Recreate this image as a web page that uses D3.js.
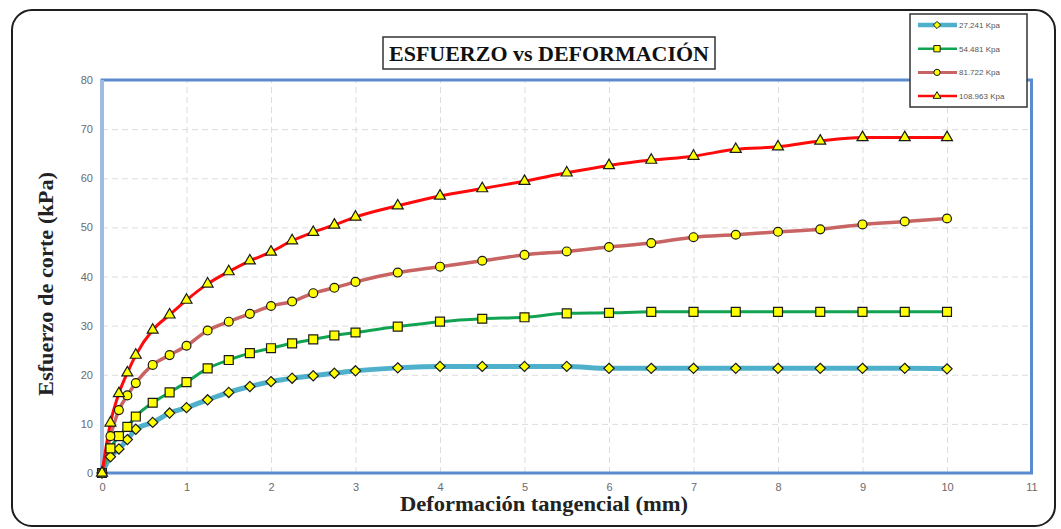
<!DOCTYPE html>
<html>
<head>
<meta charset="utf-8">
<script src="https://cdn.jsdelivr.net/npm/d3@7"></script>
<style>
  html, body { margin: 0; padding: 0; background: #fff; }
  svg { display: block; }
</style>
</head>
<body>
<svg id="chart" width="1061" height="529"></svg>
<script>
// Shear displacement (mm) shared by all four tests
const deformacion = [0, 0.1, 0.2, 0.3, 0.4, 0.6, 0.8, 1.0, 1.25, 1.5, 1.75, 2.0, 2.25, 2.5, 2.75, 3.0,
  3.5, 4, 4.5, 5, 5.5, 6, 6.5, 7, 7.5, 8, 8.5, 9, 9.5, 10];

// Shear stress (kPa) for each normal stress
const esfuerzo27 = [0, 3.3, 4.9, 6.8, 8.9, 10.3, 12.2, 13.3, 14.9, 16.4, 17.6, 18.6, 19.3, 19.8, 20.3, 20.8,
  21.4, 21.7, 21.7, 21.7, 21.7, 21.3, 21.3, 21.3, 21.3, 21.3, 21.3, 21.3, 21.3, 21.2];
const esfuerzo54 = [0, 5.0, 7.5, 9.4, 11.5, 14.3, 16.4, 18.5, 21.3, 23.0, 24.4, 25.4, 26.4, 27.2, 28.0, 28.6,
  29.8, 30.8, 31.4, 31.7, 32.5, 32.6, 32.8, 32.8, 32.8, 32.8, 32.8, 32.8, 32.8, 32.8];
const esfuerzo81 = [0, 7.5, 12.8, 15.8, 18.3, 22.0, 24.0, 25.9, 29.0, 30.8, 32.4, 34.0, 34.9, 36.6, 37.7, 38.9,
  40.8, 42.0, 43.2, 44.4, 45.1, 46.0, 46.8, 48.0, 48.5, 49.1, 49.6, 50.6, 51.2, 51.8];
const esfuerzo108 = [0, 10.2, 16.2, 20.4, 24.0, 29.1, 32.2, 35.2, 38.5, 41.0, 43.2, 45.0, 47.3, 49.0, 50.5, 52.1,
  54.4, 56.4, 57.9, 59.4, 61.1, 62.6, 63.7, 64.5, 65.9, 66.4, 67.6, 68.3, 68.3, 68.3];

const seriesNames = ["27.241 Kpa", "54.481 Kpa", "81.722 Kpa", "108.963 Kpa"];
const xTicks = [0, 1, 2, 3, 4, 5, 6, 7, 8, 9, 10, 11];
const yTicks = [0, 10, 20, 30, 40, 50, 60, 70, 80];

// Diamond drawn as a square turned 45 degrees
const squareDiamond = {
  draw(context, size) {
    const r = Math.sqrt(size / 2);
    context.moveTo(0, -r); context.lineTo(r, 0); context.lineTo(0, r); context.lineTo(-r, 0); context.closePath();
  }
};

const series = [
  { name: seriesNames[0], values: esfuerzo27, color: "#4fb0cc", width: 5, symbol: squareDiamond, size: 52 },
  { name: seriesNames[1], values: esfuerzo54, color: "#11a352", width: 3, symbol: d3.symbolSquare, size: 80 },
  { name: seriesNames[2], values: esfuerzo81, color: "#c86464", width: 3.5, symbol: d3.symbolCircle, size: 62 },
  { name: seriesNames[3], values: esfuerzo108, color: "#ff0a0a", width: 3, symbol: d3.symbolTriangle, size: 52 }
];

const svg = d3.select("#chart");
const plot = { left: 102, right: 1031.5, top: 80, bottom: 473 };

const x = d3.scaleLinear().domain([0, 11]).range([plot.left, plot.right]);
const y = d3.scaleLinear().domain([0, 80]).range([plot.bottom, plot.top]);

// Outer rounded frame
svg.append("rect")
  .attr("x", 12).attr("y", 10).attr("width", 1043).attr("height", 516)
  .attr("rx", 20).attr("fill", "#fff")
  .attr("stroke", "#1e1e1e").attr("stroke-width", 2);

// Dashed gridlines
svg.append("g")
  .attr("transform", `translate(0,${plot.bottom})`)
  .call(d3.axisBottom(x).tickValues(xTicks.slice(1, -1)).tickSize(-(plot.bottom - plot.top)).tickFormat(""))
  .call(g => g.select(".domain").remove())
  .call(g => g.selectAll("line").attr("stroke", "#dcdcdc").attr("stroke-dasharray", "6,4"));
svg.append("g")
  .attr("transform", `translate(${plot.left},0)`)
  .call(d3.axisLeft(y).tickValues(yTicks.slice(1, -1)).tickSize(-(plot.right - plot.left)).tickFormat(""))
  .call(g => g.select(".domain").remove())
  .call(g => g.selectAll("line").attr("stroke", "#dcdcdc").attr("stroke-dasharray", "6,4"));

// Plot area border
svg.append("rect")
  .attr("x", plot.left).attr("y", plot.top)
  .attr("width", plot.right - plot.left).attr("height", plot.bottom - plot.top)
  .attr("fill", "none").attr("stroke", "#5b8bcf").attr("stroke-width", 3);
svg.append("line")
  .attr("x1", plot.left).attr("x2", plot.left).attr("y1", plot.top).attr("y2", plot.bottom)
  .attr("stroke", "#9fbbe0").attr("stroke-width", 4);

// Tick labels
const tickFont = "'Liberation Sans', Arial, sans-serif";
svg.append("g")
  .attr("transform", `translate(0,${plot.bottom + 6})`)
  .call(d3.axisBottom(x).tickValues(xTicks).tickSize(0).tickPadding(4).tickFormat(d3.format("d")))
  .call(g => g.select(".domain").remove())
  .call(g => g.selectAll("text").attr("fill", "#6a6a6a").attr("font-size", 11).attr("font-family", tickFont));
svg.append("g")
  .attr("transform", `translate(${plot.left - 9},0)`)
  .call(d3.axisLeft(y).tickValues(yTicks).tickSize(0).tickPadding(0).tickFormat(d3.format("d")))
  .call(g => g.select(".domain").remove())
  .call(g => g.selectAll("text").attr("fill", "#6a6a6a").attr("font-size", 11).attr("font-family", tickFont));

// Curves
const line = d3.line()
  .x((d, i) => x(deformacion[i]))
  .y(d => y(d))
  .curve(d3.curveMonotoneX);

const gSeries = svg.append("g");
series.forEach(s => {
  gSeries.append("path")
    .datum(s.values)
    .attr("d", line)
    .attr("fill", "none")
    .attr("stroke", s.color)
    .attr("stroke-width", s.width)
    .attr("stroke-linejoin", "round");
});
series.forEach(s => {
  const sym = d3.symbol().type(s.symbol).size(s.size);
  gSeries.append("g").selectAll("path")
    .data(s.values)
    .join("path")
    .attr("d", sym)
    .attr("transform", (d, i) => `translate(${x(deformacion[i])},${y(d)})`)
    .attr("fill", "#ffff00")
    .attr("stroke", "#1a1a1a")
    .attr("stroke-width", 1.2);
});

// Title
svg.append("rect")
  .attr("x", 383).attr("y", 37).attr("width", 332).attr("height", 32)
  .attr("fill", "#fff").attr("stroke", "#333").attr("stroke-width", 1.5);
svg.append("text")
  .attr("x", 549).attr("y", 61)
  .attr("text-anchor", "middle")
  .attr("font-family", "'Liberation Serif', 'Times New Roman', serif")
  .attr("font-weight", "bold").attr("font-size", 22).attr("fill", "#111")
  .attr("textLength", 320).attr("lengthAdjust", "spacingAndGlyphs")
  .text("ESFUERZO vs DEFORMACIÓN");

// Axis titles
svg.append("text")
  .attr("transform", "translate(53,284) rotate(-90)")
  .attr("text-anchor", "middle")
  .attr("font-family", "'Liberation Serif', 'Times New Roman', serif")
  .attr("font-weight", "bold").attr("font-size", 20).attr("fill", "#222")
  .attr("textLength", 224).attr("lengthAdjust", "spacingAndGlyphs")
  .text("Esfuerzo de corte (kPa)");
svg.append("text")
  .attr("x", 544).attr("y", 511)
  .attr("text-anchor", "middle")
  .attr("font-family", "'Liberation Serif', 'Times New Roman', serif")
  .attr("font-weight", "bold").attr("font-size", 20).attr("fill", "#222")
  .attr("textLength", 288).attr("lengthAdjust", "spacingAndGlyphs")
  .text("Deformación tangencial (mm)");

// Legend
const legend = svg.append("g");
legend.append("rect")
  .attr("x", 910).attr("y", 14).attr("width", 117).attr("height", 93)
  .attr("fill", "#fff").attr("stroke", "#333").attr("stroke-width", 1.5);
series.forEach((s, i) => {
  const ly = 25 + i * 23.7;
  legend.append("line")
    .attr("x1", 918).attr("x2", 957).attr("y1", ly).attr("y2", ly)
    .attr("stroke", s.color).attr("stroke-width", s.width - 0.5);
  legend.append("path")
    .attr("d", d3.symbol().type(s.symbol).size(s.size * 0.5))
    .attr("transform", `translate(937,${ly})`)
    .attr("fill", "#ffff00").attr("stroke", "#1a1a1a").attr("stroke-width", 1);
  legend.append("text")
    .attr("x", 959).attr("y", ly + 3)
    .attr("font-family", tickFont).attr("font-size", 8).attr("fill", "#555")
    .text(s.name);
});
</script>
</body>
</html>
